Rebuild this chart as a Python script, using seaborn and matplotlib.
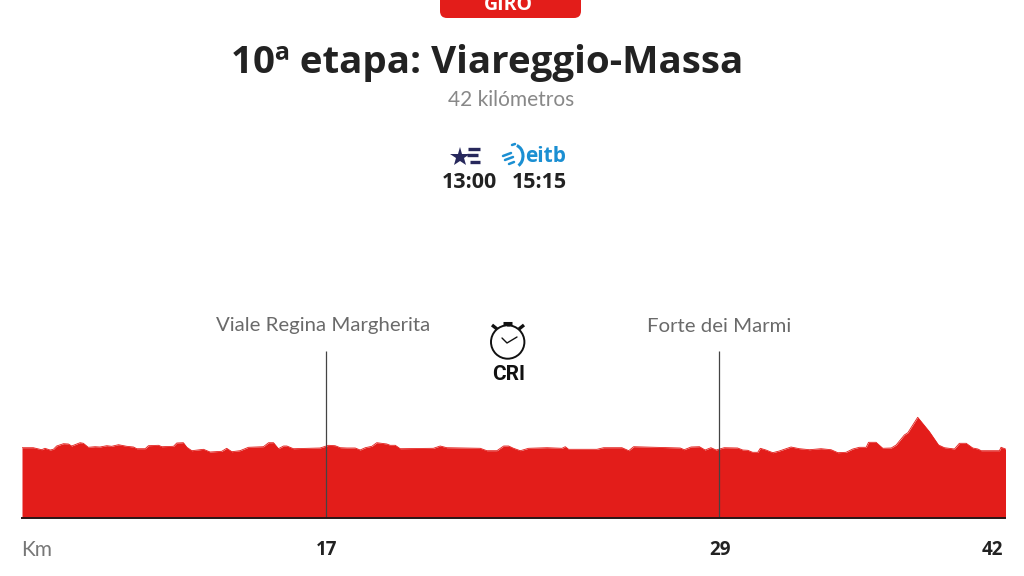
import matplotlib
matplotlib.use("Agg")
import matplotlib.pyplot as plt
import matplotlib.patches as mp
import seaborn as sns
import pandas as pd

sns.set_theme(style="white")

km = [0, 0.48, 0.84, 0.98, 1.20, 1.34, 1.48, 1.77, 1.98, 2.12, 2.48, 2.62, 2.83, 3.12, 3.33, 3.62, 3.83, 4.12, 4.47, 4.76, 4.90, 5.26, 5.40, 5.83, 5.97, 6.47, 6.61, 6.89, 7.04, 7.25, 7.75, 8.03, 8.53, 8.74, 8.96, 9.31, 9.67, 10.31, 10.53, 10.74, 10.95, 11.17, 11.31, 11.59, 12.73, 13.09, 13.37, 13.59,
      13.87, 14.23, 14.44, 14.66, 14.94, 15.15, 15.58, 15.72, 15.94, 16.15, 17.57, 17.86, 18.14, 19.57, 19.85, 20.28, 20.57, 20.78, 20.99, 21.28, 21.63, 22.42, 23.06, 23.20, 23.34, 24.55, 24.84, 25.62, 25.91, 26.12, 28.11,
      28.28, 28.57, 28.93, 29.17, 29.42, 29.64, 29.99, 30.56, 30.78, 30.99, 31.20, 31.42, 31.53, 31.77, 32.06, 32.34, 32.84, 33.20, 33.63, 34.12, 34.55, 34.84, 35.19, 35.48, 35.76, 36.05, 36.15, 36.47, 36.76, 37.12, 37.33, 37.68, 37.83, 38.25, 38.75, 39.14, 39.39, 39.82, 40.03, 40.32, 40.60, 40.82, 40.96, 41.74, 41.81, 42]
elevation = [69.8, 69.8, 67.8, 69.2, 67.5, 68.2, 71.5, 73.8, 73.5, 71.5, 74.8, 74.2, 70.2, 70.8, 70.5, 71.8, 71.2, 72.8, 71.2, 70.5, 68.8, 68.8, 71.8, 72.2, 70.8, 71.2, 74.5, 74.8, 70.2, 66.8, 68.2, 65.5, 66.2, 69.2, 65.8, 66.8, 70.2, 70.8, 74.8, 74.8, 68.8, 71.5, 71.5, 68.8, 69.5, 72.2, 71.8, 69.8,
             69.5, 69.5, 67.5, 69.8, 71.2, 74.8, 73.5, 72.2, 72.2, 68.8, 69.2, 71.5, 69.8, 69.2, 66.8, 66.8, 71.5, 71.5, 69.2, 66.8, 69.2, 69.8, 69.2, 70.8, 68.2, 68.2, 69.8, 69.8, 66.8, 70.8, 69.5,
             67.8, 70.5, 70.8, 67.5, 69.8, 67.5, 69.8, 69.5, 67.5, 67.2, 65.2, 65.2, 69.2, 67.5, 64.8, 66.5, 70.5, 68.8, 67.8, 68.8, 67.8, 64.8, 65.2, 68.5, 70.2, 70.2, 75.2, 75.2, 69.2, 69.5, 72.5, 82.5, 84.8, 100.2, 85.8, 72.5, 69.8, 68.5, 74.2, 74.2, 69.5, 68.5, 66.8, 66.8, 70.2, 68.5]
marker_km = [13.0, 29.78]
marker_names = ["Viale Regina Margherita", "Forte dei Marmi"]
marker_labels = ["17", "29"]
end_label = "42"

RED = "#e31d1a"
DARK = "#222222"
W, H = 1024, 576
fig = plt.figure(figsize=(W / 100, H / 100), dpi=100, facecolor="white")

ov = fig.add_axes([0, 0, 1, 1], zorder=3)
ov.set_xlim(0, W); ov.set_ylim(H, 0); ov.axis("off"); ov.patch.set_alpha(0)

x0, x1, ybase, ytop = 22, 1005.5, 517.5, 340
ax = fig.add_axes([x0 / W, 1 - ybase / H, (x1 - x0) / W, (ybase - ytop) / H], zorder=2)
ax.patch.set_alpha(0)
df = pd.DataFrame({"km": km, "elevation": elevation})
sns.lineplot(data=df, x="km", y="elevation", ax=ax, color=RED, lw=0.6, errorbar=None, estimator=None, sort=False)
ax.fill_between(km, 0, elevation, color=RED, lw=0)
ax.set_xlim(0, 42); ax.set_ylim(0, ybase - ytop)
for s in ["top", "left", "right"]:
    ax.spines[s].set_visible(False)
ax.spines["bottom"].set_color("#2a1515"); ax.spines["bottom"].set_linewidth(1.4)
ax.set_xticks([]); ax.set_yticks([]); ax.set_xlabel(""); ax.set_ylabel("")
ax.vlines(marker_km, 0, 166.5, color="#444444", lw=0.9)

SANS = "Open Sans"
LIGHT = "Lato"
for k, name, lab in zip(marker_km, marker_names, marker_labels):
    ax.annotate(name, (k, 166.5), xytext=(-3.5 if k < 20 else 0, 25), textcoords="offset pixels", ha="center", va="center",
                fontsize=14.7, family=LIGHT, weight="normal", color="#6a6a6a", annotation_clip=False)
    ax.annotate(lab, (k, 0), xytext=(0.5, -32.5), textcoords="offset pixels", ha="center", va="center",
                fontsize=13.5, family=SANS, weight="bold", color=DARK, annotation_clip=False)
ax.annotate(end_label, (42, 0), xytext=(-2, -32.5), textcoords="offset pixels", ha="right", va="center",
            fontsize=13.5, family=SANS, weight="bold", color=DARK, annotation_clip=False)
ax.annotate("Km", (0, 0), xytext=(-1, -32.5), textcoords="offset pixels", ha="left", va="center",
            fontsize=15, family=LIGHT, weight="normal", color="#777777", annotation_clip=False)

ov.add_patch(mp.FancyBboxPatch((440, -20), 141, 38, boxstyle="round,pad=0,rounding_size=7", fc=RED, ec="none"))
ov.text(508.5, 5.5, "GIRO", ha="center", va="center", color="white", fontsize=14, family=SANS, weight="bold")
ov.text(487, 62.5, "10ª etapa: Viareggio-Massa", ha="center", va="center", fontsize=27.7, family=SANS, weight="bold", color=DARK)
ov.text(511, 100.5, "42 kilómetros", ha="center", va="center", fontsize=15, family=LIGHT, weight="normal", color="#888888")
ov.text(469, 182, "13:00", ha="center", va="center", fontsize=15.5, family=SANS, weight="bold", color=DARK)
ov.text(539, 182, "15:15", ha="center", va="center", fontsize=15.5, family=SANS, weight="bold", color=DARK)

NAVY = "#27285c"
ov.plot([460], [156.5], marker="*", ms=15, color=NAVY, mew=0)
for (a, b, y) in [(468, 480, 148.5), (467, 478, 155), (470, 480, 162)]:
    ov.plot([a, b], [y, y], color=NAVY, lw=2.4, solid_capstyle="butt")
BLUE = "#1b8fd2"
ov.text(545.5, 157, "eitb", ha="center", va="center", fontsize=15, family=SANS, weight="bold", color=BLUE)
ov.add_patch(mp.Arc((514, 156), 18, 22, theta1=-75, theta2=65, color=BLUE, lw=2.2))
for (a, b, c, d) in [(503, 511, 156, 153), (505, 513, 160, 157), (509, 514, 164, 162), (512, 515, 145, 144)]:
    ov.plot([a, b], [c, d], color=BLUE, lw=1.8, solid_capstyle="round")

ov.add_patch(mp.Circle((507.7, 342), 16.7, fc="white", ec="#111111", lw=1.4))
ov.plot([502, 507, 517], [338, 343, 337], color="#111111", lw=1.0)
ov.plot([503, 512], [323, 323], color="#111111", lw=2.2, solid_capstyle="butt")
ov.plot([507.7, 507.7], [323, 326], color="#111111", lw=2.0, solid_capstyle="butt")
ov.plot([492, 497], [325, 329], color="#111111", lw=2.4, solid_capstyle="butt")
ov.plot([524, 519], [325, 329], color="#111111", lw=2.4, solid_capstyle="butt")
ov.text(508.5, 374, "CRI", ha="center", va="center", fontsize=15, family="Roboto", weight="bold", color="#111111")

fig.savefig("out.png", dpi=100, facecolor="white")
